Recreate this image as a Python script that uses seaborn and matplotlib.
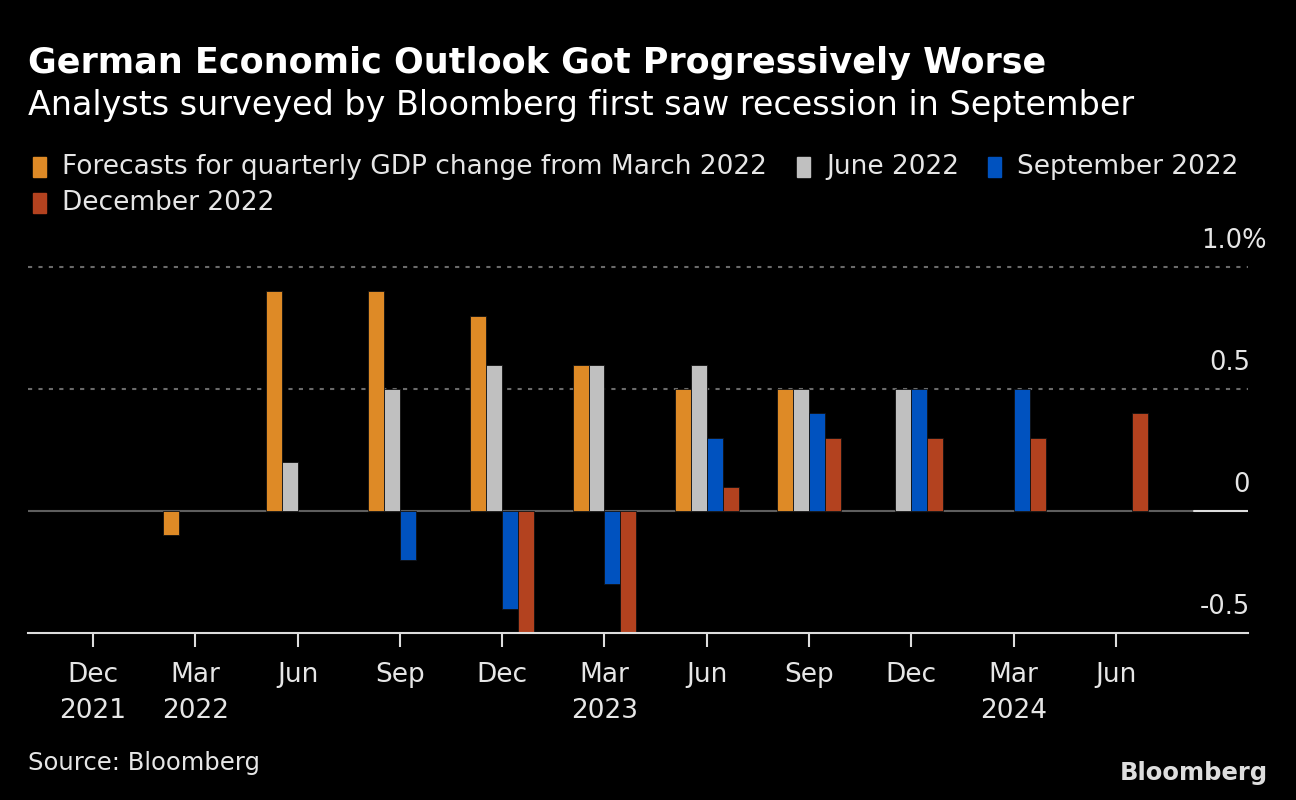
import numpy as np
import pandas as pd
import matplotlib
matplotlib.use("Agg")
import matplotlib.pyplot as plt
import matplotlib.transforms as mtransforms
from matplotlib.patches import Rectangle
import seaborn as sns

# ---- data ----
quarters = ["Dec 2021", "Mar 2022", "Jun 2022", "Sep 2022", "Dec 2022", "Mar 2023",
            "Jun 2023", "Sep 2023", "Dec 2023", "Mar 2024", "Jun 2024"]
tick_labels = ["Dec\n2021", "Mar\n2022", "Jun", "Sep", "Dec", "Mar\n2023",
               "Jun", "Sep", "Dec", "Mar\n2024", "Jun"]
series_names = ["Forecasts for quarterly GDP change from March 2022", "June 2022",
                "September 2022", "December 2022"]
nan = np.nan
march_2022 = [nan, -0.1, 0.9, 0.9, 0.8, 0.6, 0.5, 0.5, nan, nan, nan]
june_2022 = [nan, nan, 0.2, 0.5, 0.6, 0.6, 0.6, 0.5, 0.5, nan, nan]
september_2022 = [nan, nan, nan, -0.2, -0.4, -0.3, 0.3, 0.4, 0.5, 0.5, nan]
december_2022 = [nan, nan, nan, nan, -0.5, -0.5, 0.1, 0.3, 0.3, 0.3, 0.4]
colors = ["#DE8A26", "#C0C0C0", "#0052BF", "#B3421F"]
y_ticks = [1.0, 0.5, 0.0, -0.5]
y_tick_labels = ["1.0%", "0.5", "0", "-0.5"]

rows = []
for name, vals in zip(series_names, [march_2022, june_2022, september_2022, december_2022]):
    for q, v in zip(quarters, vals):
        if not np.isnan(v):
            rows.append({"quarter": q, "series": name, "value": v})
df = pd.DataFrame(rows)

# ---- style ----
sns.set_theme(style="dark")
plt.rcParams["font.family"] = ["DejaVu Sans"]
BG = "black"
TXT = "#E6E6E6"

W, H = 1296, 800
fig = plt.figure(figsize=(W / 100, H / 100), dpi=100, facecolor=BG)
ax = fig.add_axes([28 / W, (H - 633) / H, (1248 - 28) / W, (633 - 267) / H])
ax.set_facecolor(BG)

sns.barplot(data=df, x="quarter", y="value", hue="series", order=quarters,
            hue_order=series_names, palette=colors, width=0.625, gap=0,
            saturation=1, dodge=True, legend=False, ax=ax,
            edgecolor="#111111", linewidth=0.6, zorder=3)

ax.set_xlim(-0.635, 11.29)
ax.set_ylim(-0.5, 1.0)
ax.set_xlabel("")
ax.set_ylabel("")
ax.grid(False)
for s in ["top", "right", "left"]:
    ax.spines[s].set_visible(False)
ax.spines["bottom"].set_color("#DDDDDD")
ax.spines["bottom"].set_linewidth(1.5)
ax.spines["bottom"].set_zorder(5)

# gridlines
for yv in [0.5, 1.0]:
    ax.axhline(yv, color="#6A6A6A", linestyle=(0, (2, 3)), linewidth=1.5, zorder=1, clip_on=False)
ax.axhline(0, xmin=0, xmax=(1194 - 28) / 1220, color="#5E5E5E", linewidth=1.5, zorder=2)
ax.axhline(0, xmin=(1194 - 28) / 1220, xmax=1, color="#DDDDDD", linewidth=1.5, zorder=2)

ax.set_yticks([])
ax.set_xticks(range(len(quarters)))
ax.set_xticklabels(tick_labels, color=TXT, fontsize=19, linespacing=1.5)
ax.tick_params(axis="x", colors="#DDDDDD", length=10, width=1.5, pad=11, labelcolor=TXT, bottom=True)

# y labels inside right
trans = mtransforms.blended_transform_factory(ax.transAxes, ax.transData)
for yv, lab in zip(y_ticks, y_tick_labels):
    xo = 19 if lab.endswith("%") else 2
    off = mtransforms.offset_copy(trans, fig=fig, x=xo, y=19, units="dots")
    ax.text(1.0, yv, lab, transform=off, ha="right", va="baseline", color=TXT,
            fontsize=18.5, clip_on=False)

# titles
fig.text(28 / W, 1 - 63 / H, "German Economic Outlook Got Progressively Worse",
         color="white", fontsize=25.2, fontweight="bold", ha="left", va="center")
fig.text(28 / W, 1 - 105 / H, "Analysts surveyed by Bloomberg first saw recession in September",
         color="white", fontsize=24, ha="left", va="center")

# legend (manual)
leg_pos = [(33, 167), (797, 167), (988, 167), (33, 203)]
for (lx, ly), name, c in zip(leg_pos, series_names, colors):
    fig.patches.append(Rectangle((lx / W, 1 - (ly + 10) / H), 13 / W, 20 / H,
                                 transform=fig.transFigure, color=c))
    fig.text((lx + 29) / W, 1 - ly / H, name, color=TXT, fontsize=19, ha="left", va="center")

fig.text(28 / W, 1 - 763 / H, "Source: Bloomberg", color=TXT, fontsize=17.5, ha="left", va="center")
fig.text(1268 / W, 1 - 773 / H, "Bloomberg", color="#DDDDDD", fontsize=17.5, fontweight="bold",
         ha="right", va="center")

fig.savefig("out.png", dpi=100, facecolor=BG)
